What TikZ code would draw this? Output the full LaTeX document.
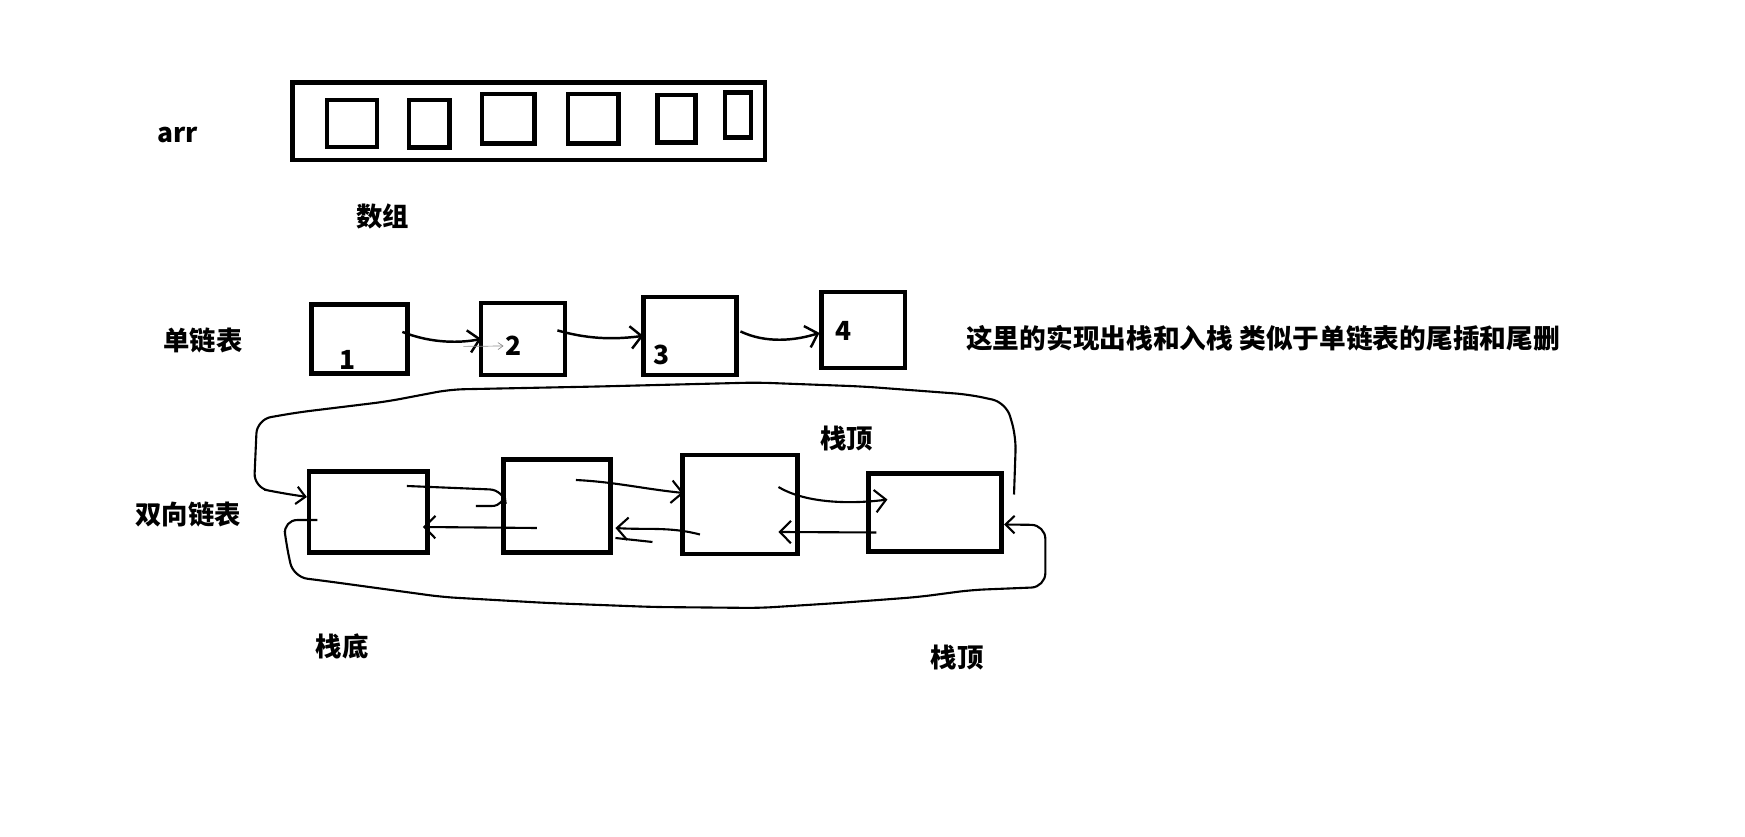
\documentclass[tikz,border=0pt]{standalone}
\usepackage{fontspec}
\usepackage{tikz}
\usetikzlibrary{arrows.meta, positioning}
\newfontfamily\cjk{Noto Sans CJK SC}

\begin{document}
\begin{tikzpicture}[
        x=0.02cm, y=-0.02cm,
        box/.style = {draw, rectangle, line width=2.6pt, inner sep=0pt},
        cell/.style = {box},
        listbox/.style = {box},
        lbl/.style = {font=\cjk\bfseries\fontsize{15pt}{17pt}\selectfont, inner sep=1pt},
        remarkfont/.style = {font=\cjk\bfseries\fontsize{15.2pt}{17pt}\selectfont},
        arrow/.style = {draw=black, line width=1.4pt, -{Straight Barb[length=0.22cm, width=0.45cm]}},
        link/.style = {draw=black, line width=1.2pt, rounded corners=8},
        note/.style = {draw=black!45, line width=0.4pt, -{Straight Barb[length=0.1cm, width=0.14cm]}}
    ]

        \useasboundingbox (0,0) rectangle (1745,837);

        % Array
        \node (arrname) [lbl] at (178,135) {arr};
        \node (arr) [box, minimum width=9.45cm, minimum height=1.55cm] at (528.8,121.3) {};
        \node (c1) [cell, minimum width=1.0cm, minimum height=0.94cm] at (351.8,123.3) {};
        \node (c2) [cell, minimum width=0.81cm, minimum height=0.95cm] at (429.3,123.7) {};
        \node (c3) [cell, minimum width=1.05cm, minimum height=0.99cm] at (508.1,118.8) {};
        \node (c4) [cell, minimum width=1.01cm, minimum height=0.99cm] at (593.4,118.8) {};
        \node (c5) [cell, minimum width=0.76cm, minimum height=0.95cm] at (676.7,118.8) {};
        \node (c6) [cell, minimum width=0.52cm, minimum height=0.9cm] at (738.2,115) {};
        \node (arrcap) [lbl] at (382.5,216.7) {数组};

        % Singly linked list
        \node (sllname) [lbl] at (203,340.7) {单链表};
        \node (s1) [listbox, minimum width=1.92cm, minimum height=1.38cm] at (359.6,338.9) {};
        \node (s2) [listbox, minimum width=1.68cm, minimum height=1.44cm, right=1.38cm of s1] {};
        \node (s3) [listbox, minimum width=1.86cm, minimum height=1.56cm, right=1.48cm of s2, yshift=0.06cm] {};
        \node (s4) [listbox, minimum width=1.67cm, minimum height=1.52cm, right=1.61cm of s3, yshift=0.12cm] {};
        \node (n1) [lbl] at (348,360) {1};
        \node (n2) [lbl] at (513.7,346) {2};
        \node (n3) [lbl] at (662,355) {3};
        \node (n4) [lbl] at (844,330.7) {4};
        \node (remark) [lbl, remarkfont] at (1263,338) {这里的实现出栈和入栈 类似于单链表的尾插和尾删};

        \draw [arrow] ([xshift=-0.15cm, yshift=0.14cm]s1.east) .. controls +(30,12) and +(-20,4) .. ([xshift=0.05cm]s2.west);
        \draw [note] ([xshift=-0.31cm, yshift=-0.15cm]s2.west) -- (n2.west);
        \draw [arrow] ([xshift=-0.2cm, yshift=0.17cm]s2.east) .. controls +(35,10) and +(-25,3) .. ([xshift=0.04cm]s3.west);
        \draw [arrow] ([xshift=0.03cm, yshift=0.09cm]s3.east) .. controls +(25,12) and +(-25,8) .. ([yshift=-0.06cm]s4.west);

        % Doubly linked list
        \node (dllname) [lbl] at (188,514) {双向链表};
        \node (d1) [listbox, minimum width=2.37cm, minimum height=1.62cm] at (368.4,512) {};
        \node (d2) [listbox, minimum width=2.14cm, minimum height=1.85cm, right=1.43cm of d1, yshift=0.12cm] {};
        \node (d3) [listbox, minimum width=2.31cm, minimum height=1.98cm, right=1.34cm of d2, yshift=0.03cm] {};
        \node (d4) [listbox, minimum width=2.67cm, minimum height=1.55cm, right=1.32cm of d3, yshift=-0.16cm] {};
        \node (topa) [lbl] at (846.4,438.3) {栈顶};
        \node (bottom) [lbl] at (342,646.7) {栈底};
        \node (topb) [lbl] at (957,658) {栈顶};

        % next
        \draw [link] ([xshift=-0.46cm, yshift=0.52cm]d1.east) -- ([xshift=0.05cm, yshift=0.32cm]d2.west) -- ++(2,16) -- ++(-30,0);
        \draw [arrow, line width=1.2pt] ([xshift=-0.74cm, yshift=0.52cm]d2.east) .. controls +(40,2) and +(-40,-4) .. ([xshift=0.08cm, yshift=0.23cm]d3.west);
        \draw [arrow, line width=1.2pt] ([xshift=-0.43cm, yshift=0.35cm]d3.east) .. controls +(30,18) and +(-30,4) .. ([xshift=0.43cm, yshift=0.26cm]d4.west);

        % prev
        \draw [arrow, line width=1.2pt] ([xshift=0.71cm, yshift=-0.44cm]d2.west) -- ([xshift=-0.14cm, yshift=-0.3cm]d1.east);
        \draw [arrow, line width=1.2pt] ([xshift=0.4cm, yshift=-0.6cm]d3.west) .. controls +(-30,-8) and +(30,2) .. ([xshift=0.05cm, yshift=-0.44cm]d2.east);
        \draw [link] ([xshift=0.05cm, yshift=-0.64cm]d2.east) -- ++(37,4);
        \draw [arrow, line width=1.2pt] ([xshift=0.21cm, yshift=-0.4cm]d4.west) -- ([xshift=-0.43cm, yshift=-0.55cm]d3.east);

        % loops
        \draw [link, -{Straight Barb[length=0.18cm, width=0.35cm]}] ([xshift=0.2cm, yshift=0.36cm]d4.east) -- ++(2,-58) -- ++(-10,-34) -- ++(-37,-8) -- ++(-106,-8) -- ++(-106,-4) -- ++(-159,4) -- ++(-148,3) -- ++(-63,12) -- ++(-90,11) -- ++(-40,7) -- ++(-3,68) -- ++(24,5) -- ([yshift=0.3cm]d1.west);
        \draw [link, -{Straight Barb[length=0.18cm, width=0.35cm]}] ([xshift=0.21cm, yshift=-0.16cm]d1.west) -- ++(-34,0) -- ++(3,25) -- ++(7,32) -- ++(32,4) -- ++(117,16) -- ++(105,6) -- ++(106,4) -- ++(106,1) -- ++(79,-5) -- ++(80,-6) -- ++(53,-7) -- ++(74,-3) -- ++(0,-62) -- ([yshift=-0.24cm]d4.east);

    \end{tikzpicture}
\end{document}
